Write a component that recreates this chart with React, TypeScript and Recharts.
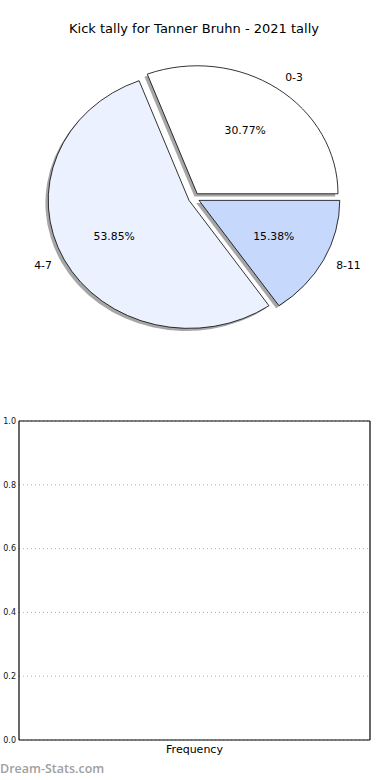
import { Bar, BarChart, CartesianGrid, Cell, Pie, PieChart, XAxis, YAxis } from 'recharts';

// kick tally bins for the season
const bins = ['0-3', '4-7', '8-11'];
const kicks = [4, 7, 2];
const sliceColors = ['#ffffff', '#ebf1fe', '#c6d9fd'];

// empty frequency panel underneath
const freqTicks = [0, 0.2, 0.4, 0.6, 0.8, 1.0];
const freqRows = [{ bin: '' }];

const pieData = bins.map((b, i) => ({ name: b, value: kicks[i] }));

const FONT = '"DejaVu Sans", sans-serif';
const RX_SCALE = 1.1; // pie is drawn a bit wider than tall
const EXPLODE = 0.04;

const rad = (d: number) => (d * Math.PI) / 180;

function wedgePath(cx: number, cy: number, rx: number, ry: number, a0: number, a1: number) {
    const x0 = cx + rx * Math.cos(rad(a0));
    const y0 = cy - ry * Math.sin(rad(a0));
    const x1 = cx + rx * Math.cos(rad(a1));
    const y1 = cy - ry * Math.sin(rad(a1));
    const large = Math.abs(a1 - a0) > 180 ? 1 : 0;
    return `M${cx},${cy} L${x0},${y0} A${rx},${ry} 0 ${large} 0 ${x1},${y1} Z`;
}

function Wedge(props: any) {
    const { cx, cy, outerRadius, startAngle, endAngle, fill } = props;
    const rx = outerRadius * RX_SCALE;
    const ry = outerRadius;
    const mid = (startAngle + endAngle) / 2;
    const ox = cx + EXPLODE * rx * Math.cos(rad(mid));
    const oy = cy - EXPLODE * ry * Math.sin(rad(mid));
    const d = wedgePath(ox, oy, rx, ry, startAngle, endAngle);
    return (
        <g>
            <path d={d} transform="translate(-2.8,2.6)" fill="#4d4d4d" fillOpacity={0.5} stroke="none" />
            <path d={d} fill={fill} stroke="#000" strokeWidth={0.8} strokeLinejoin="round" />
        </g>
    );
}

function WedgeLabel(props: any) {
    const { cx, cy, outerRadius, midAngle, percent } = props;
    const name = props.name ?? props.payload?.name;
    const rx = outerRadius * RX_SCALE;
    const ry = outerRadius;
    const c = Math.cos(rad(midAngle));
    const s = Math.sin(rad(midAngle));
    const ox = cx + EXPLODE * rx * c;
    const oy = cy - EXPLODE * ry * s;
    return (
        <g fontFamily={FONT} fontSize={10.8} fill="#000">
            <text
                x={ox + 1.1 * rx * c}
                y={oy - 1.1 * ry * s}
                textAnchor={c > 0 ? 'start' : 'end'}
                dominantBaseline="central"
            >
                {name}
            </text>
            <text x={ox + 0.6 * rx * c} y={oy - 0.6 * ry * s} textAnchor="middle" dominantBaseline="central">
                {(percent * 100).toFixed(2)}%
            </text>
        </g>
    );
}

export default function App() {
    return (
        <div style={{ position: 'absolute', left: 0, top: 0, width: 390, height: 780, background: '#fff', fontFamily: FONT }}>
            <div style={{ position: 'absolute', left: 0, top: 21, width: 388, textAlign: 'center', fontSize: 13, color: '#000' }}>
                Kick tally for Tanner Bruhn - 2021 tally
            </div>

            <div style={{ position: 'absolute', left: 0, top: 0 }}>
                <PieChart width={390} height={390} margin={{ top: 0, right: 0, bottom: 0, left: 0 }}>
                    <Pie
                        data={pieData}
                        dataKey="value"
                        nameKey="name"
                        cx={194}
                        cy={198}
                        outerRadius={128}
                        startAngle={0}
                        endAngle={360}
                        shape={Wedge}
                        inactiveShape={Wedge}
                        activeShape={Wedge}
                        label={WedgeLabel}
                        labelLine={false}
                        isAnimationActive={false}
                    >
                        {pieData.map((d, i) => (
                            <Cell key={d.name} fill={sliceColors[i]} />
                        ))}
                    </Pie>
                </PieChart>
            </div>

            <div style={{ position: 'absolute', left: 0, top: 411 }}>
                <BarChart width={390} height={349} data={freqRows} margin={{ top: 9, right: 19, bottom: 0, left: 0 }}>
                    <CartesianGrid vertical={false} stroke="#b0b0b0" strokeDasharray="1 3" />
                    <XAxis
                        dataKey="bin"
                        height={20}
                        tick={false}
                        tickLine={false}
                        axisLine={{ stroke: '#000', strokeWidth: 1.2 }}
                        label={{ value: 'Frequency', position: 'insideTop', offset: 5, fontSize: 11, fill: '#000', fontFamily: FONT }}
                    />
                    <XAxis
                        xAxisId="top"
                        orientation="top"
                        dataKey="bin"
                        height={1}
                        tick={false}
                        tickLine={false}
                        axisLine={{ stroke: '#000', strokeWidth: 1.2 }}
                    />
                    <YAxis
                        type="number"
                        width={19}
                        domain={[0, 1]}
                        allowDataOverflow
                        ticks={freqTicks}
                        interval={0}
                        tickFormatter={(v: number) => v.toFixed(1)}
                        tickSize={0}
                        tickMargin={3}
                        axisLine={{ stroke: '#000', strokeWidth: 1.2 }}
                        tick={{ fontSize: 8, fill: '#111', fontFamily: FONT }}
                    />
                    <YAxis
                        yAxisId="right"
                        type="number"
                        orientation="right"
                        width={1}
                        domain={[0, 1]}
                        allowDataOverflow
                        ticks={freqTicks}
                        tick={false}
                        tickLine={false}
                        axisLine={{ stroke: '#000', strokeWidth: 1.2 }}
                    />
                    <Bar dataKey="count" fill="#c6d9fd" isAnimationActive={false} />
                </BarChart>
            </div>

            <div
                style={{
                    position: 'absolute',
                    left: 0,
                    top: 760,
                    fontSize: 12.5,
                    fontWeight: 600,
                    fontFamily: '"Open Sans", sans-serif',
                    color: '#a0a0a0',
                }}
            >
                Dream-Stats.com
            </div>
        </div>
    );
}
